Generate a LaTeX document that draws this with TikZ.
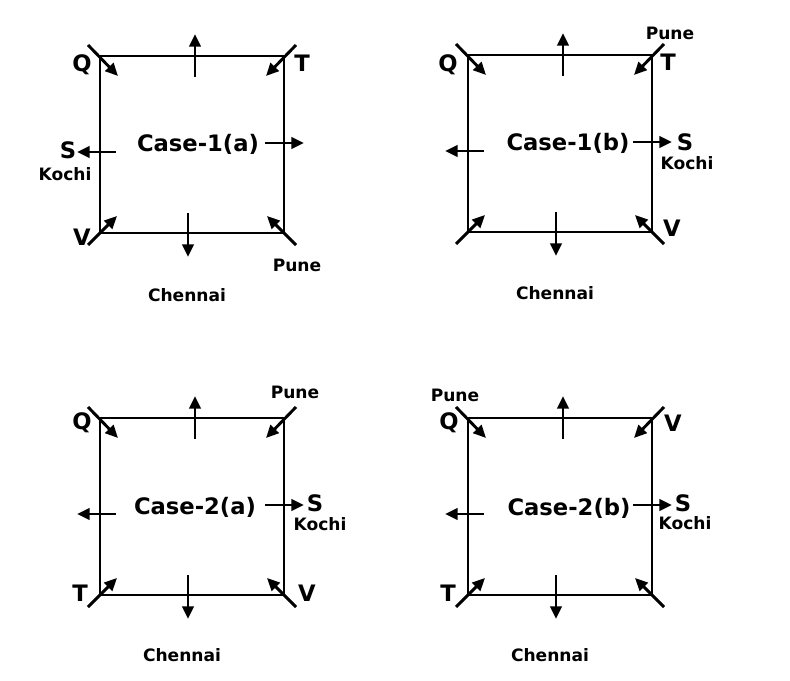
\documentclass[tikz,border=0pt]{standalone}
\usepackage{fontspec}
\setmainfont{DejaVu Sans}
\usetikzlibrary{arrows.meta}
\tikzset{
  wall/.style={line width=2.2pt},
  way/.style={line width=2.2pt,-{Triangle[length=9.5pt,width=8.5pt]}},
  corner/.style={font=\bfseries\fontsize{17}{20}\selectfont,inner sep=0pt},
  city/.style={font=\bfseries\fontsize{12.8}{15}\selectfont,inner sep=0pt},
  casename/.style={font=\bfseries\fontsize{17}{20}\selectfont,inner sep=0pt}
}
% square with the eight ways out of it
\newcommand{\plan}{%
\draw[wall] (0,0) rectangle (184,177);
\draw[way] (-12,-11) -- (18,20);
\draw[way] (196,-11) -- (166,20);
\draw[way] (-12,189) -- (17,160);
\draw[way] (196,189) -- (167,160);
\draw[way] (95,21) -- (95,-22);
\draw[way] (88,157) -- (88,201);
\draw[way] (16,96) -- (-23,96);
\draw[way] (165,87) -- (204,87);
}
\begin{document}
\begin{tikzpicture}[x=0.75pt,y=-0.75pt]
\useasboundingbox (0,0) rectangle (790,681);
%
\begin{scope}[shift={(100,56)}]
\plan
\node[casename](c1a) at (98,88) {Case-1(a)};
\node[corner](q1a) at (-18,9) {Q};
\node[corner](t1a) at (202,7) {T};
\node[corner](s1a) at (-32,94) {S};
\node[city](k1a) at (-35,118) {Kochi};
\node[corner](v1a) at (-18,181) {V};
\node[city](p1a) at (197,209) {Pune};
\node[city](ch1a) at (87,239) {Chennai};
\end{scope}
%
\begin{scope}[shift={(468,55)}]
\plan
\node[casename](c1b) at (100,88) {Case-1(b)};
\node[corner](q1b) at (-20,10) {Q};
\node[city](p1b) at (202,-22) {Pune};
\node[corner](t1b) at (200,7) {T};
\node[corner](s1b) at (217,87) {S};
\node[city](k1b) at (219,108) {Kochi};
\node[corner](v1b) at (204,173) {V};
\node[city](ch1b) at (87,238) {Chennai};
\end{scope}
%
\begin{scope}[shift={(100,418)}]
\plan
\node[casename](c2a) at (95,89) {Case-2(a)};
\node[city](p2a) at (195,-26) {Pune};
\node[corner](q2a) at (-18,5) {Q};
\node[corner](s2a) at (215,85) {S};
\node[city](k2a) at (220,106) {Kochi};
\node[corner](t2a) at (-20,175) {T};
\node[corner](v2a) at (207,175) {V};
\node[city](ch2a) at (82,237) {Chennai};
\end{scope}
%
\begin{scope}[shift={(468,418)}]
\plan
\node[casename](c2b) at (101,90) {Case-2(b)};
\node[city](p2b) at (-13,-23) {Pune};
\node[corner](q2b) at (-19,5) {Q};
\node[corner](v2b) at (205,5) {V};
\node[corner](s2b) at (215,85) {S};
\node[city](k2b) at (217,105) {Kochi};
\node[corner](t2b) at (-20,175) {T};
\node[city](ch2b) at (82,237) {Chennai};
\end{scope}
\end{tikzpicture}
\end{document}
